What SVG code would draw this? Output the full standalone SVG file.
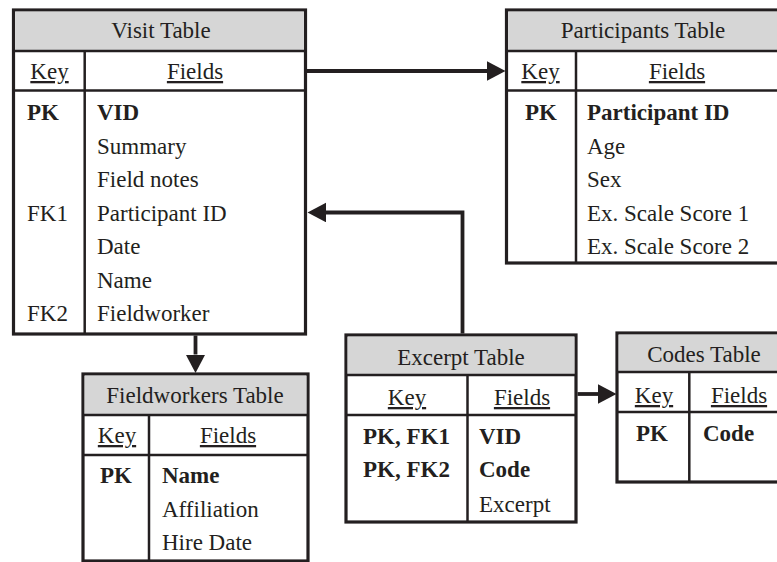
<svg xmlns="http://www.w3.org/2000/svg" width="777" height="562" viewBox="0 0 777 562">
<defs>
<style>
.frame{fill:#fff;stroke:#231f20;stroke-width:3.2}
.head{fill:#d6d6d6;stroke:none}
.inner{stroke:#231f20;stroke-width:2.5;fill:none}
text{font-family:"Liberation Serif","Times New Roman",serif;font-size:23px;fill:#231f20}
.t{text-anchor:middle}
.u{text-anchor:middle;text-decoration:underline}
.b{font-weight:bold}
.m{text-anchor:middle}
.conn{stroke:#231f20;stroke-width:3.8;fill:none;stroke-linejoin:miter}
</style>
<marker id="ah" markerUnits="userSpaceOnUse" markerWidth="19" markerHeight="20" refX="0" refY="9.75" orient="auto">
<path d="M0,0 L18.5,9.75 L0,19.5 Z" fill="#231f20"/>
</marker>
</defs>

<g id="visit">
<rect class="frame" x="13.5" y="10" width="292" height="324"/>
<rect class="head" x="15.1" y="11.6" width="288.8" height="39.4"/>
<line class="inner" x1="13.5" y1="51" x2="305.5" y2="51"/>
<line class="inner" x1="13.5" y1="90.5" x2="305.5" y2="90.5"/>
<line class="inner" x1="84.7" y1="51" x2="84.7" y2="334"/>
<text class="t" x="161" y="38">Visit Table</text>
<text class="u" x="49.5" y="79">Key</text>
<text class="u" x="195" y="79">Fields</text>
<text class="b" x="27" y="120">PK</text>
<text class="b" x="97" y="120">VID</text>
<text x="97" y="153.5">Summary</text>
<text x="97" y="187">Field notes</text>
<text x="27" y="220.5">FK1</text>
<text x="97" y="220.5">Participant ID</text>
<text x="97" y="254">Date</text>
<text x="97" y="287.5">Name</text>
<text x="27" y="321">FK2</text>
<text x="97" y="321">Fieldworker</text>
</g>

<g id="participants">
<rect class="frame" x="506.5" y="10" width="276" height="253"/>
<rect class="head" x="508.1" y="11.6" width="272.8" height="39.4"/>
<line class="inner" x1="506.5" y1="51" x2="782.5" y2="51"/>
<line class="inner" x1="506.5" y1="90.5" x2="782.5" y2="90.5"/>
<line class="inner" x1="576" y1="51" x2="576" y2="263"/>
<text class="t" x="643" y="38">Participants Table</text>
<text class="u" x="540.5" y="79">Key</text>
<text class="u" x="677" y="79">Fields</text>
<text class="b m" x="541" y="120">PK</text>
<text class="b" x="587" y="120">Participant ID</text>
<text x="587" y="153.5">Age</text>
<text x="587" y="187">Sex</text>
<text x="587" y="220.5">Ex. Scale Score 1</text>
<text x="587" y="254">Ex. Scale Score 2</text>
</g>

<g id="fieldworkers">
<rect class="frame" x="83" y="374" width="225" height="187"/>
<rect class="head" x="84.6" y="375.6" width="221.8" height="39.4"/>
<line class="inner" x1="83" y1="415" x2="308" y2="415"/>
<line class="inner" x1="83" y1="455" x2="308" y2="455"/>
<line class="inner" x1="149" y1="415" x2="149" y2="561"/>
<text class="t" x="195" y="403">Fieldworkers Table</text>
<text class="u" x="117" y="443">Key</text>
<text class="u" x="228" y="443">Fields</text>
<text class="b m" x="116" y="483">PK</text>
<text class="b" x="162" y="483">Name</text>
<text x="162" y="516.7">Affiliation</text>
<text x="162" y="550">Hire Date</text>
</g>

<g id="excerpt">
<rect class="frame" x="346" y="335" width="230" height="187"/>
<rect class="head" x="347.6" y="336.6" width="226.8" height="38.4"/>
<line class="inner" x1="346" y1="375" x2="576" y2="375"/>
<line class="inner" x1="346" y1="415" x2="576" y2="415"/>
<line class="inner" x1="467.5" y1="375" x2="467.5" y2="522"/>
<text class="t" x="461" y="365">Excerpt Table</text>
<text class="u" x="407" y="405">Key</text>
<text class="u" x="522" y="405">Fields</text>
<text class="b m" x="406.5" y="444">PK, FK1</text>
<text class="b m" x="406.5" y="477">PK, FK2</text>
<text class="b" x="479" y="444">VID</text>
<text class="b" x="479" y="477">Code</text>
<text x="479" y="511.5">Excerpt</text>
</g>

<g id="codes">
<rect class="frame" x="617" y="333" width="175" height="149"/>
<rect class="head" x="618.6" y="334.6" width="171.8" height="37.4"/>
<line class="inner" x1="617" y1="372" x2="792" y2="372"/>
<line class="inner" x1="617" y1="412" x2="792" y2="412"/>
<line class="inner" x1="689.3" y1="372" x2="689.3" y2="482"/>
<text class="t" x="704" y="362">Codes Table</text>
<text class="u" x="654" y="403">Key</text>
<text class="u" x="739" y="403">Fields</text>
<text class="b m" x="652" y="441">PK</text>
<text class="b" x="703" y="441">Code</text>
</g>

<g id="connectors">
<line class="conn" x1="307" y1="71" x2="487" y2="71" marker-end="url(#ah)"/>
<polyline class="conn" points="462.5,333.5 462.5,212.5 326,212.5" marker-end="url(#ah)"/>
<line class="conn" x1="195.5" y1="335.5" x2="195.5" y2="354.5" marker-end="url(#ah)"/>
<line class="conn" x1="577.5" y1="394" x2="598" y2="394" marker-end="url(#ah)"/>
</g>
</svg>
